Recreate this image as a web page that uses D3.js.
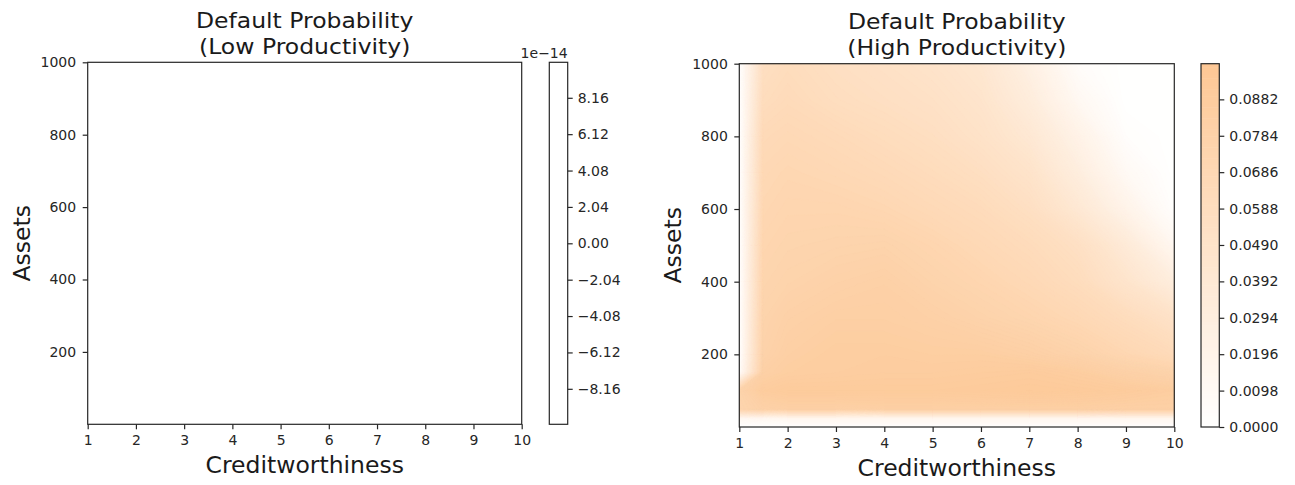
<!DOCTYPE html>
<meta charset="utf-8">
<head>
<style type='text/css'>
  body {
    margin: 0;
    background: #fff;
    font-family: 'DejaVu Sans';
  }
  .axis path, .axis line {
    stroke: #262626;
    stroke-width: 1.2;
  }
  .axis text {
    font-family: 'DejaVu Sans';
    font-size: 14px;
    fill: #262626;
  }
  .title, .label {
    font-family: 'DejaVu Sans';
    fill: #1a1a1a;
    text-anchor: middle;
  }
  .title { font-size: 22px; }
  .label { font-size: 23.5px; }
  .frame {
    fill: none;
    stroke: #262626;
    stroke-width: 1.2;
  }
</style>
</head>
<body>
<svg id="chart" width="1295" height="485"></svg>
<script src="https://d3js.org/d3.v7.min.js"></script>
<script>
// grid the probabilities were computed on
var creditGrid = [1, 1.5, 2, 3, 4, 5, 6, 7, 8, 9, 10];
var assetGrid = [0, 25, 50, 100, 150, 200, 300, 400, 500, 600, 700, 800, 900, 1000];

// default probability, high productivity (one row per asset level, one column per creditworthiness)
var highProb = [
  [0.000, 0.000, 0.000, 0.000, 0.000, 0.000, 0.000, 0.000, 0.000, 0.000, 0.000],
  [0.012, 0.014, 0.015, 0.015, 0.015, 0.015, 0.015, 0.015, 0.015, 0.015, 0.015],
  [0.074, 0.080, 0.082, 0.082, 0.083, 0.083, 0.083, 0.083, 0.083, 0.082, 0.082],
  [0.076, 0.088, 0.090, 0.090, 0.090, 0.090, 0.091, 0.092, 0.091, 0.089, 0.086],
  [0.004, 0.082, 0.085, 0.086, 0.087, 0.087, 0.088, 0.089, 0.086, 0.080, 0.076],
  [0.000, 0.078, 0.083, 0.086, 0.086, 0.085, 0.085, 0.082, 0.077, 0.070, 0.063],
  [0.000, 0.076, 0.080, 0.083, 0.083, 0.081, 0.077, 0.073, 0.068, 0.060, 0.050],
  [0.000, 0.074, 0.076, 0.079, 0.081, 0.076, 0.072, 0.067, 0.060, 0.046, 0.030],
  [0.000, 0.072, 0.074, 0.075, 0.076, 0.072, 0.067, 0.062, 0.054, 0.036, 0.013],
  [0.000, 0.070, 0.072, 0.072, 0.070, 0.066, 0.062, 0.055, 0.040, 0.020, 0.002],
  [0.000, 0.068, 0.070, 0.068, 0.065, 0.061, 0.056, 0.048, 0.030, 0.010, 0.000],
  [0.000, 0.065, 0.067, 0.064, 0.060, 0.056, 0.050, 0.040, 0.022, 0.003, 0.000],
  [0.000, 0.060, 0.063, 0.058, 0.055, 0.052, 0.046, 0.032, 0.012, 0.000, 0.000],
  [0.000, 0.056, 0.060, 0.055, 0.052, 0.048, 0.042, 0.025, 0.005, 0.000, 0.000]
];

// default probability, low productivity: zero everywhere
var lowProb = [
  [0, 0, 0, 0, 0, 0, 0, 0, 0, 0, 0],
  [0, 0, 0, 0, 0, 0, 0, 0, 0, 0, 0],
  [0, 0, 0, 0, 0, 0, 0, 0, 0, 0, 0],
  [0, 0, 0, 0, 0, 0, 0, 0, 0, 0, 0],
  [0, 0, 0, 0, 0, 0, 0, 0, 0, 0, 0],
  [0, 0, 0, 0, 0, 0, 0, 0, 0, 0, 0],
  [0, 0, 0, 0, 0, 0, 0, 0, 0, 0, 0],
  [0, 0, 0, 0, 0, 0, 0, 0, 0, 0, 0],
  [0, 0, 0, 0, 0, 0, 0, 0, 0, 0, 0],
  [0, 0, 0, 0, 0, 0, 0, 0, 0, 0, 0],
  [0, 0, 0, 0, 0, 0, 0, 0, 0, 0, 0],
  [0, 0, 0, 0, 0, 0, 0, 0, 0, 0, 0],
  [0, 0, 0, 0, 0, 0, 0, 0, 0, 0, 0],
  [0, 0, 0, 0, 0, 0, 0, 0, 0, 0, 0]
];

// axis ticks
var xTicks = [1, 2, 3, 4, 5, 6, 7, 8, 9, 10];
var yTicks = [200, 400, 600, 800, 1000];

// colorbar ticks
var highCbTicks = [0, 0.0098, 0.0196, 0.0294, 0.0392, 0.0490, 0.0588, 0.0686, 0.0784, 0.0882];
var highCbLabels = ["0.0000", "0.0098", "0.0196", "0.0294", "0.0392", "0.0490", "0.0588", "0.0686", "0.0784", "0.0882"];
var lowCbTicks = [-8.16e-14, -6.12e-14, -4.08e-14, -2.04e-14, 0, 2.04e-14, 4.08e-14, 6.12e-14, 8.16e-14];
var lowCbLabels = ["\u22128.16", "\u22126.12", "\u22124.08", "\u22122.04", "0.00", "2.04", "4.08", "6.12", "8.16"];

var svg = d3.select("#chart");

// title lines: slightly smaller font, stretched back to the reference width
function titleLine(x, y, text) {
  var t = svg.append("text").attr("class", "title")
      .attr("x", x).attr("y", y).text(text);
  var w = t.node().getComputedTextLength();
  t.attr("textLength", w * 1.068).attr("lengthAdjust", "spacingAndGlyphs");
}

function drawPanel(p) {
  var x = d3.scaleLinear().domain([1, 10]).range([p.left, p.right]);
  var y = d3.scaleLinear().domain([0, 1000]).range([p.bottom, p.top]);

  var nx = creditGrid.length, ny = assetGrid.length;
  // grid index -> data value (grid may be uneven)
  var gx = d3.scaleLinear().domain(d3.range(nx)).range(creditGrid);
  var gy = d3.scaleLinear().domain(d3.range(ny)).range(assetGrid);

  var levels = d3.range(101).map(function(i) { return p.cbMin + (p.cbMax - p.cbMin) * i / 100; });
  var step = (p.cbMax - p.cbMin) / 100;

  var flat = [].concat.apply([], p.values);
  var bands = d3.contours().size([nx, ny]).thresholds(levels.slice(0, 100))(flat);

  var proj = d3.geoTransform({
    point: function(px, py) { this.stream.point(x(gx(px - 0.5)), y(gy(py - 0.5))); }
  });
  var path = d3.geoPath(proj);

  svg.append("clipPath").attr("id", p.id + "-clip")
    .append("rect")
      .attr("x", p.left).attr("y", p.top)
      .attr("width", p.right - p.left).attr("height", p.bottom - p.top);

  svg.append("g")
      .attr("clip-path", "url(#" + p.id + "-clip)")
    .selectAll("path")
    .data(bands)
    .enter().append("path")
      .attr("d", path)
      .attr("fill", function(d) { return p.color(d.value + step / 2); })
      .attr("stroke", function(d) { return p.color(d.value + step / 2); })
      .attr("stroke-width", 0.3);

  // axes
  svg.append("g")
      .attr("class", "axis")
      .attr("transform", "translate(0," + p.bottom + ")")
      .call(d3.axisBottom(x).tickValues(xTicks).tickSize(5).tickPadding(6).tickSizeOuter(0))
    .select(".domain").remove();

  svg.append("g")
      .attr("class", "axis")
      .attr("transform", "translate(" + p.left + ",0)")
      .call(d3.axisLeft(y).tickValues(yTicks).tickFormat(d3.format("d"))
        .tickSize(5).tickPadding(6.5).tickSizeOuter(0))
    .select(".domain").remove();

  svg.append("rect")
      .attr("class", "frame")
      .attr("x", p.left).attr("y", p.top)
      .attr("width", p.right - p.left).attr("height", p.bottom - p.top);

  // titles and labels
  var cx = (p.left + p.right) / 2;
  titleLine(cx, p.top - 34.5, "Default Probability");
  titleLine(cx, p.top - 8.5, p.subtitle);
  svg.append("text").attr("class", "label")
      .attr("x", cx).attr("y", p.bottom + 49).text("Creditworthiness");
  svg.append("text").attr("class", "label")
      .attr("transform", "translate(" + (p.left - 58) + "," + ((p.top + p.bottom) / 2) + ") rotate(-90)")
      .text("Assets");

  // colorbar
  var cb = d3.scaleLinear().domain([p.cbMin, p.cbMax]).range([p.bottom, p.top]);
  svg.append("g")
    .selectAll("rect")
    .data(levels.slice(0, 100))
    .enter().append("rect")
      .attr("x", p.cbLeft)
      .attr("width", p.cbRight - p.cbLeft)
      .attr("y", function(d) { return cb(d + step); })
      .attr("height", function(d) { return cb(d) - cb(d + step) + 0.5; })
      .attr("fill", function(d) { return p.color(d + step / 2); });

  svg.append("g")
      .attr("class", "axis")
      .attr("transform", "translate(" + p.cbRight + ",0)")
      .call(d3.axisRight(cb).tickValues(p.cbTicks)
        .tickFormat(function(d, i) { return p.cbLabels[i]; })
        .tickSize(5).tickPadding(5).tickSizeOuter(0))
    .select(".domain").remove();

  svg.append("rect")
      .attr("class", "frame")
      .attr("x", p.cbLeft).attr("y", p.top)
      .attr("width", p.cbRight - p.cbLeft).attr("height", p.bottom - p.top);

  if (p.offset) {
    svg.append("text")
        .attr("x", p.cbRight)
        .attr("y", p.top - 4)
        .attr("text-anchor", "end")
        .style("font-size", "14px")
        .style("fill", "#262626")
        .text(p.offset);
  }
}

var orange = d3.interpolateRgb("#ffffff", "#fdc794");

drawPanel({
  id: "low", subtitle: "(Low Productivity)",
  left: 87.7, right: 521.7, top: 62.3, bottom: 424.3,
  cbLeft: 549.3, cbRight: 567.7,
  cbMin: -10.15e-14, cbMax: 10.15e-14,
  cbTicks: lowCbTicks, cbLabels: lowCbLabels, offset: "1e\u221214",
  values: lowProb,
  color: function() { return "#ffffff"; }
});

drawPanel({
  id: "high", subtitle: "(High Productivity)",
  left: 739.3, right: 1174.3, top: 63.7, bottom: 427,
  cbLeft: 1201, cbRight: 1219.3,
  cbMin: 0, cbMax: 0.0978,
  cbTicks: highCbTicks, cbLabels: highCbLabels,
  values: highProb,
  color: function(v) { return orange(Math.max(0, Math.min(1, v / 0.0978))); }
});
</script>
</body>
